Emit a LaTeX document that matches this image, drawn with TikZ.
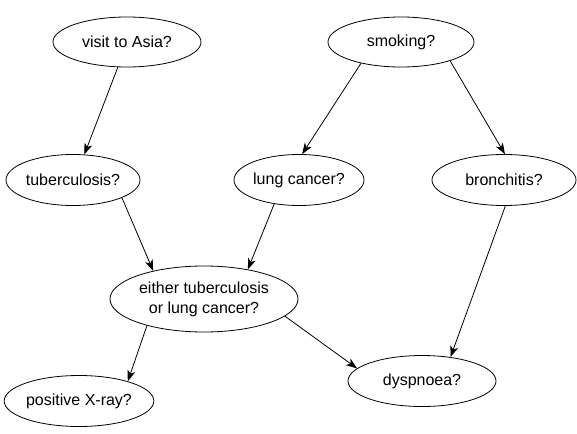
\documentclass[tikz,border=0pt]{standalone}
\usepackage{fontspec}
\setmainfont{Liberation Sans}
\usetikzlibrary{shapes.geometric,arrows.meta}
\begin{document}
\begin{tikzpicture}[x=1pt,y=-1pt,
  bnode/.style={draw=black, line width=0.8pt, ellipse, inner sep=0pt, align=center,
    font=\fontsize{16}{20}\selectfont},
  edge/.style={draw=black, line width=0.8pt, -{Stealth[length=11pt,width=8pt,inset=3pt]}}]
\useasboundingbox (0,0) rectangle (577,433);
\fill[white] (0,0) rectangle (577,433);
\node[bnode, minimum width=148pt, minimum height=50pt] (visit) at (127,42) {visit to Asia?};
\node[bnode, minimum width=146pt, minimum height=50pt] (smoking) at (401,42) {smoking?};
\node[bnode, minimum width=134pt, minimum height=51pt] (tuber) at (73,180) {tuberculosis?};
\node[bnode, minimum width=130pt, minimum height=51pt] (lung) at (299,180) {lung cancer?};
\node[bnode, minimum width=144pt, minimum height=51pt] (bronch) at (504,180) {bronchitis?};
\node[bnode, minimum width=188pt, minimum height=66pt] (either) at (204,299) {either tuberculosis\\or lung cancer?};
\node[bnode, minimum width=134pt, minimum height=51pt] (xray) at (79,401) {positive X-ray?};
\node[bnode, minimum width=148pt, minimum height=51pt] (dysp) at (422,381) {dyspnoea?};
\draw[edge] (visit.-110) -- (tuber.66);
\draw[edge] (smoking.-152) -- (lung.83);
\draw[edge] (smoking.-21) -- (bronch.88);
\draw[edge] (tuber.-20) -- (either.151);
\draw[edge] (lung.-136) -- (either.34);
\draw[edge] (bronch.-87) -- (dysp.40);
\draw[edge] (either.-155) -- (xray.22);
\draw[edge] (either.-12) -- (dysp.169);
\end{tikzpicture}
\end{document}
